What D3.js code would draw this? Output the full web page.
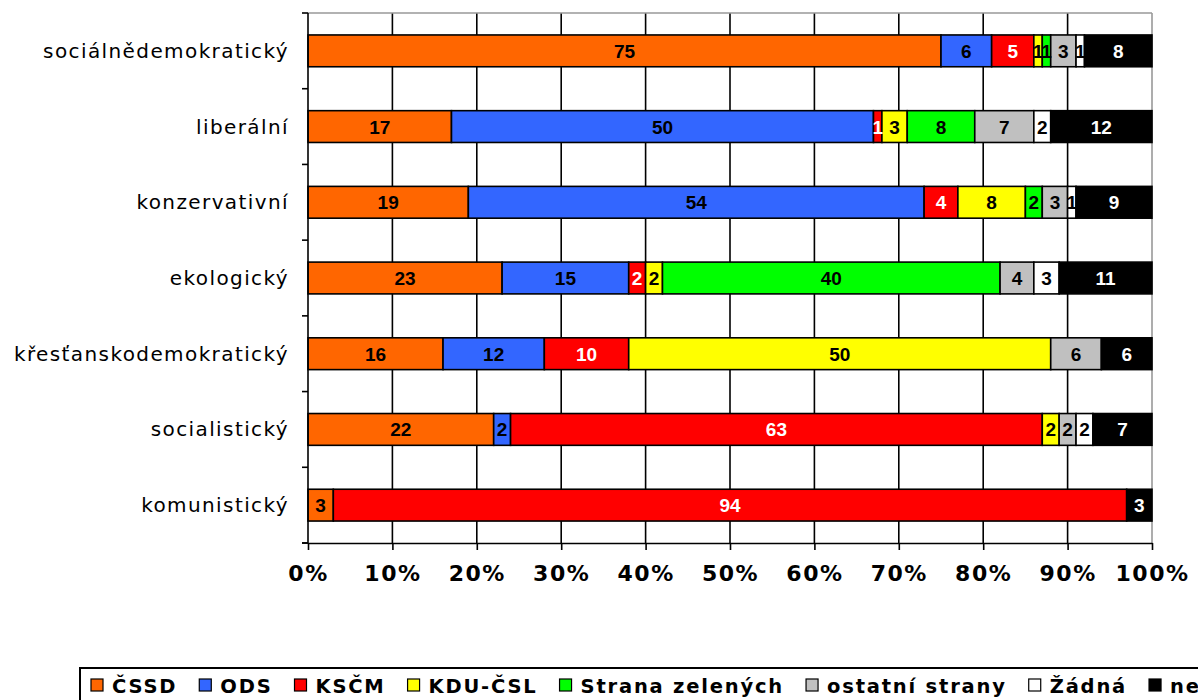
<!DOCTYPE html>
<html><head><meta charset="utf-8">
<script src="https://cdn.jsdelivr.net/npm/d3@7"></script>
<style>body{margin:0;background:#fff;overflow:hidden}</style>
</head><body>
<svg id="c" width="1198" height="700"></svg>
<script>
const categories = ["sociálnědemokratický","liberální","konzervativní","ekologický","křesťanskodemokratický","socialistický","komunistický"];
const seriesNames = ["ČSSD","ODS","KSČM","KDU-ČSL","Strana zelených","ostatní strany","Žádná","neví"];
const seriesColors = ["#ff6600","#3366ff","#ff0000","#ffff00","#00ff00","#c0c0c0","#ffffff","#000000"];
const labelColors = ["#000","#000","#fff","#000","#000","#000","#000","#fff"];
const CSSD   = [75,17,19,23,16,22,3];
const ODS    = [6,50,54,15,12,2,0];
const KSCM   = [5,1,4,2,10,63,94];
const KDU    = [1,3,8,2,50,2,0];
const SZ     = [1,8,2,40,0,0,0];
const OSTATNI= [3,7,3,4,6,2,0];
const ZADNA  = [1,2,1,3,0,2,0];
const NEVI   = [8,12,9,11,6,7,3];
const xTicks = [0,10,20,30,40,50,60,70,80,90,100];

const series = [CSSD,ODS,KSCM,KDU,SZ,OSTATNI,ZADNA,NEVI];
const rows = categories.map((c,i)=>{const o={cat:c};seriesNames.forEach((s,j)=>o[s]=series[j][i]);return o;});
const stack = d3.stack().keys(seriesNames)(rows);

const svg = d3.select("#c");
const L=308,R=1152,T=13,B=543;
const x = d3.scaleLinear().domain([0,100]).range([L,R]);
const y = d3.scaleBand().domain(categories).range([T,B]).paddingInner(0.58).paddingOuter(0.29);
const VERD = "DejaVu Sans, Verdana, sans-serif";

// gridlines
svg.append("g").selectAll("line").data(xTicks.filter(t=>t>0&&t<100)).join("line")
  .attr("x1",d=>x(d)).attr("x2",d=>x(d)).attr("y1",T).attr("y2",B)
  .attr("stroke","#000").attr("stroke-width",1.6);
svg.append("line").attr("x1",L).attr("x2",R).attr("y1",T).attr("y2",T).attr("stroke","#999").attr("stroke-width",1.6);
svg.append("line").attr("x1",R).attr("x2",R).attr("y1",T).attr("y2",B).attr("stroke","#999").attr("stroke-width",1.6);

// bars
const g = svg.append("g");
stack.forEach((layer,j)=>{
  layer.forEach((d,i)=>{
    const v = d[1]-d[0];
    if(v<=0) return;
    g.append("rect").attr("x",x(d[0])).attr("y",y(categories[i]))
      .attr("width",x(d[1])-x(d[0])).attr("height",y.bandwidth())
      .attr("fill",seriesColors[j]).attr("stroke","#000").attr("stroke-width",1.6);
  });
});
stack.forEach((layer,j)=>{
  layer.forEach((d,i)=>{
    const v = d[1]-d[0];
    if(v<=0) return;
    g.append("text").attr("x",(x(d[0])+x(d[1]))/2).attr("y",y(categories[i])+y.bandwidth()/2+7)
      .attr("text-anchor","middle").attr("font-family","Liberation Sans, Arial, sans-serif")
      .attr("font-weight","bold").attr("font-size",19)
      .attr("fill",labelColors[j]).text(v);
  });
});

// x axis
const xa = svg.append("g").attr("transform",`translate(0,${B})`)
  .call(d3.axisBottom(x).tickValues(xTicks).tickSize(7).tickSizeOuter(0).tickFormat(d=>d+"%"));
xa.select(".domain").attr("stroke","#000").attr("stroke-width",1.6);
xa.selectAll(".tick line").attr("stroke","#000").attr("stroke-width",1.6);
xa.selectAll("text").attr("font-family",VERD).attr("font-weight","bold")
  .attr("font-size",22).attr("letter-spacing",1.5).attr("fill","#000").attr("y",38).attr("dy",0);
svg.append("line").attr("x1",L-6).attr("x2",L).attr("y1",B).attr("y2",B).attr("stroke","#000").attr("stroke-width",1.6);

// y axis
svg.append("line").attr("x1",L).attr("x2",L).attr("y1",T).attr("y2",B).attr("stroke","#000").attr("stroke-width",1.6);
const bounds = categories.map(c=>y(c)-y.step()*y.paddingInner()/2).concat([B]);
svg.append("g").selectAll("line").data(bounds).join("line")
  .attr("x1",L-6).attr("x2",L).attr("y1",d=>d).attr("y2",d=>d).attr("stroke","#000").attr("stroke-width",1.6);
svg.append("g").selectAll("text").data(categories).join("text")
  .attr("x",289).attr("y",d=>y(d)+y.bandwidth()/2+7).attr("text-anchor","end")
  .attr("font-family",VERD).attr("font-size",20).attr("letter-spacing",1.4).attr("fill","#000").text(d=>d);

// legend
const lg = svg.append("g");
lg.append("rect").attr("x",80).attr("y",668).attr("width",1140).attr("height",50).attr("fill","#fff").attr("stroke","#000").attr("stroke-width",2);
let lx = 91;
seriesNames.forEach((s,j)=>{
  lg.append("rect").attr("x",lx).attr("y",679).attr("width",12).attr("height",12)
    .attr("fill",seriesColors[j]).attr("stroke","#000").attr("stroke-width",1.2);
  const t = lg.append("text").attr("x",lx+21).attr("y",693).attr("font-family",VERD)
    .attr("font-weight","bold").attr("font-size",19.5).attr("letter-spacing",1.8).attr("fill","#000").text(s);
  lx = lx + 21 + t.node().getComputedTextLength() + 22;
});
</script>
</body></html>
